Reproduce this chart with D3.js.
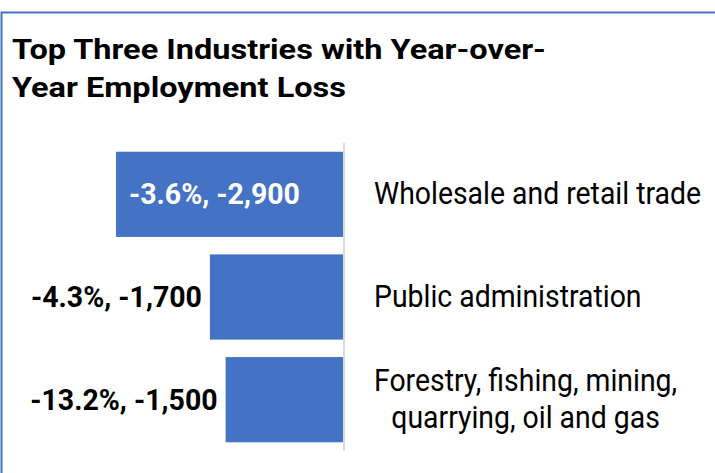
<!DOCTYPE html>
<html><head><meta charset="utf-8">
<script src="https://cdn.jsdelivr.net/npm/d3@7"></script>
<style>
html,body{margin:0;padding:0;background:#fff;}
svg{display:block;font-family:Roboto, "Noto Sans", sans-serif;}
</style></head>
<body><svg id="chart" width="715" height="473"></svg>
<script>
const titleLines = ["Top Three Industries with Year-over-", "Year Employment Loss"];
const categories = [["Wholesale and retail trade"], ["Public administration"], ["Forestry, fishing, mining,", "quarrying, oil and gas"]];
const changeValues = [-2900, -1700, -1500];
const percentValues = [-3.6, -4.3, -13.2];
const valueLabels = ["-3.6%, -2,900", "-4.3%, -1,700", "-13.2%, -1,500"];

const svg = d3.select("#chart");

function stretch(sel, f) {
  sel.each(function () {
    const w = this.getComputedTextLength();
    d3.select(this).attr("textLength", w * f).attr("lengthAdjust", "spacingAndGlyphs");
  });
}

// frame
svg.append("path").attr("d", "M1.5,473 L1.5,12.5 L715,12.5")
  .attr("fill", "none").attr("stroke", "#4472C4").attr("stroke-width", 2);

// title
const title = svg.append("g");
titleLines.forEach((t, i) => title.append("text").attr("x", 12).attr("y", 58.5 + i * 38)
  .attr("font-weight", 700).attr("font-size", 28).attr("fill", "#000").text(t));
stretch(title.selectAll("text"), 1.16);

const idx = categories.map((c, i) => i);
const x = d3.scaleLinear().domain([-2900, 0]).range([116, 343]);
const y = d3.scaleBand().domain(idx).range([143, 451]).paddingInner(0.17).paddingOuter(0.085);

// bars
svg.selectAll("rect.bar").data(idx).join("rect").attr("class", "bar")
  .attr("x", i => x(changeValues[i])).attr("width", i => x(0) - x(changeValues[i]))
  .attr("y", i => y(i)).attr("height", y.bandwidth()).attr("fill", "#4472C4");

// zero line
svg.append("line").attr("x1", x(0) + 1).attr("x2", x(0) + 1).attr("y1", y.range()[0]).attr("y2", y.range()[1])
  .attr("stroke", "#D9D9D9").attr("stroke-width", 2);

// value labels
const inside = i => (x(0) - x(changeValues[i])) > 200;
svg.selectAll("text.val").data(idx).join("text").attr("class", "val")
  .attr("font-size", 28.5).attr("font-weight", 700)
  .attr("transform", i => `translate(${inside(i) ? x(changeValues[i]) + 13 : x(changeValues[i]) - 8},${y(i) + y.bandwidth() / 2 + 10}) scale(1,1.06)`)
  .attr("fill", i => inside(i) ? "#fff" : "#000")
  .attr("text-anchor", i => inside(i) ? "start" : "end")
  .text(i => valueLabels[i]);

// category labels (condensed look: narrower font size, stretched vertically)
const lh = 37;
const baseSize = 28.4, vScale = 1.074;
idx.forEach(i => {
  const lines = categories[i];
  const cy = y(i) + y.bandwidth() / 2;
  const y0 = cy - (lines.length - 1) * lh / 2 + 10;
  const g = svg.append("g").attr("class", "cat");
  const texts = lines.map((ln, k) => g.append("text").attr("font-size", baseSize).attr("fill", "#000")
    .attr("x", 0).attr("y", 0).text(ln));
  const ws = texts.map(t => t.node().getComputedTextLength());
  const maxW = d3.max(ws);
  texts.forEach((t, k) => t.attr("transform",
    `translate(${374 + (maxW - ws[k]) / 2},${y0 + k * lh}) scale(1,${vScale})`));
});
</script></body></html>
